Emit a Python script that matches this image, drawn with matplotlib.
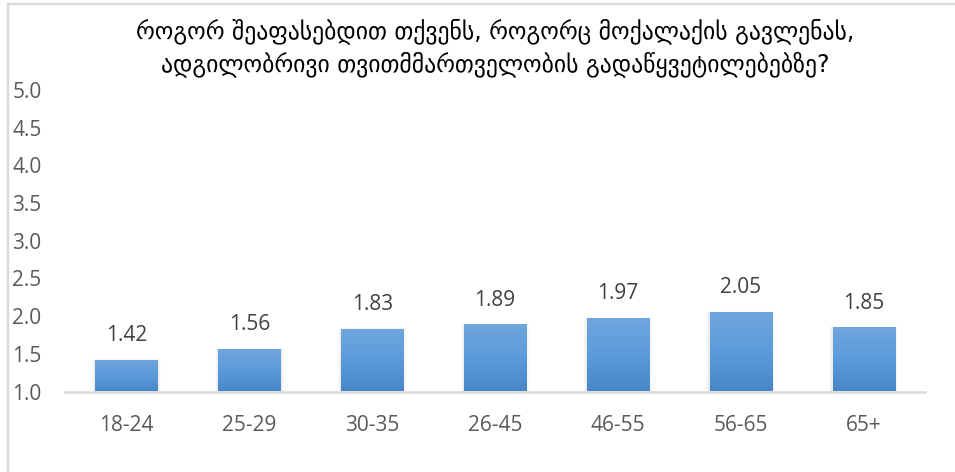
import matplotlib
matplotlib.use("Agg")
import matplotlib.pyplot as plt
import numpy as np
from matplotlib.colors import LinearSegmentedColormap
from matplotlib.lines import Line2D

categories = ["18-24", "25-29", "30-35", "26-45", "46-55", "56-65", "65+"]
values = [1.42, 1.56, 1.83, 1.89, 1.97, 2.05, 1.85]
yticks = [1.0, 1.5, 2.0, 2.5, 3.0, 3.5, 4.0, 4.5, 5.0]
title_lines = ["როგორ შეაფასებდით თქვენს, როგორც მოქალაქის გავლენას,",
               "ადგილობრივი თვითმმართველობის გადაწყვეტილებებზე?"]

W, H = 955, 472
fig = plt.figure(figsize=(W / 100, H / 100), dpi=100)
ax = fig.add_axes([65 / W, 1 - 391.5 / H, (925 - 65) / W, (391.5 - 90) / H])

num_font = ["Open Sans", "DejaVu Sans"]
gray = "#595959"

x = np.arange(len(categories))
base = 1.0
bars = ax.bar(x, [v - base for v in values], bottom=base, width=0.505,
              color="none", edgecolor="none", zorder=3)

cmap = LinearSegmentedColormap.from_list("g", ["#4787C9", "#5C9BDB", "#70A7DD"])
grad = np.linspace(0, 1, 256).reshape(-1, 1)
for b in bars:
    x0, y0 = b.get_x(), b.get_y()
    w, h = b.get_width(), b.get_height()
    # soft shadow
    for k, a in enumerate([0.035, 0.025, 0.015]):
        dx = 0.01 * (k + 1)
        ax.add_patch(plt.Rectangle((x0 - dx, y0), w + 2 * dx, h + dx * 0.4,
                                   facecolor="#000000", alpha=a, edgecolor="none",
                                   zorder=2))
    im = ax.imshow(grad, extent=(x0, x0 + w, y0, y0 + h), origin="lower",
                   cmap=cmap, aspect="auto", zorder=3)
    im.set_clip_path(b)

for xi, v in zip(x, values):
    ax.annotate(f"{v:.2f}", (xi, v), xytext=(0, 10), textcoords="offset points",
                ha="center", va="bottom", fontsize=15, color="#404040",
                family=num_font, zorder=5)

ax.set_xlim(-0.5, len(categories) - 0.5)
ax.set_ylim(1.0, 5.0)
ax.set_xticks(x)
ax.set_xticklabels(categories, fontsize=15, color=gray, family=num_font)
ax.set_yticks(yticks)
ax.set_yticklabels([f"{t:.1f}" for t in yticks], fontsize=15, color=gray,
                   family=num_font)
ax.tick_params(axis="both", length=0)
ax.tick_params(axis="y", pad=17)
ax.tick_params(axis="x", pad=17)
for s in ["top", "right", "left"]:
    ax.spines[s].set_visible(False)
ax.spines["bottom"].set_color("#d9d9d9")
ax.spines["bottom"].set_linewidth(1.8)
ax.spines["bottom"].set_zorder(4)

title_x = (65 + 925) / 2 / W
for line, base_px in zip(title_lines, [38, 71]):
    fig.text(title_x, 1 - base_px / H, line, ha="center", va="baseline",
             fontsize=17, color="#000000", family=["DejaVu Sans"])

# chart frame (left and top borders)
fig.add_artist(Line2D([7.5 / W, 7.5 / W], [0, 1 - 3.5 / H], color="#d9d9d9",
                      lw=1.6, transform=fig.transFigure))
fig.add_artist(Line2D([7.5 / W, 1], [1 - 3.5 / H, 1 - 3.5 / H], color="#d9d9d9",
                      lw=1.6, transform=fig.transFigure))

fig.savefig("out.png", dpi=100, facecolor="white")
